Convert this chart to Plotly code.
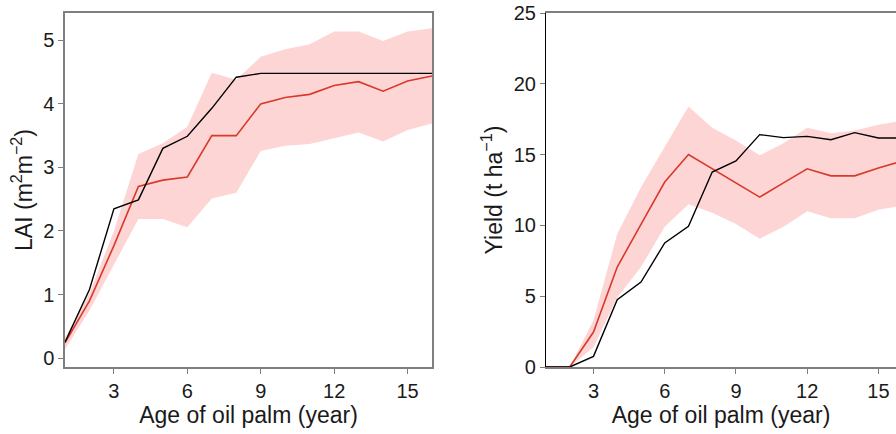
import plotly.graph_objects as go

# ---- Data ----
age = [1, 2, 3, 4, 5, 6, 7, 8, 9, 10, 11, 12, 13, 14, 15, 16]

lai_obs = [0.25, 1.08, 2.35, 2.49, 3.30, 3.49, 3.93, 4.42, 4.48, 4.48, 4.48, 4.48, 4.48, 4.48, 4.48, 4.48]
lai_sim = [0.24, 0.90, 1.77, 2.70, 2.80, 2.85, 3.50, 3.50, 4.00, 4.10, 4.15, 4.29, 4.35, 4.20, 4.36, 4.44]
lai_hi = [0.32, 1.02, 2.00, 3.21, 3.38, 3.64, 4.49, 4.38, 4.74, 4.86, 4.94, 5.14, 5.14, 4.99, 5.14, 5.19]
lai_lo = [0.14, 0.75, 1.48, 2.19, 2.19, 2.06, 2.51, 2.60, 3.26, 3.34, 3.37, 3.46, 3.55, 3.41, 3.59, 3.69]

yield_obs = [0.0, 0.0, 0.75, 4.75, 6.00, 8.76, 9.93, 13.77, 14.55, 16.41, 16.20, 16.29, 16.05, 16.55, 16.17, 16.17]
yield_sim = [0.0, 0.0, 2.47, 7.06, 10.08, 13.06, 15.00, 14.00, 13.00, 12.00, 13.00, 14.00, 13.50, 13.50, 14.05, 14.55]
yield_hi = [0.0, 0.0, 3.30, 9.40, 12.70, 15.50, 18.40, 16.90, 16.00, 14.95, 15.80, 16.90, 16.50, 16.70, 17.10, 17.40]
yield_lo = [0.0, 0.0, 1.40, 4.90, 7.06, 9.90, 11.50, 10.90, 10.10, 9.06, 9.90, 11.00, 10.50, 10.50, 11.10, 11.40]

x_ticks = [3, 6, 9, 12, 15]
lai_ticks = [0, 1, 2, 3, 4, 5]
yield_ticks = [0, 5, 10, 15, 20, 25]

# ---- Styles ----
BAND = "#FDD5D5"
RED = "#D8392A"
BLACK = "#000000"
GRAY = "#7F7F7F"
FONT = "Liberation Sans, Arial, sans-serif"

fig = go.Figure()


def add_panel(xa, ya, hi, lo, sim, obs):
    fig.add_trace(go.Scatter(x=age + age[::-1], y=hi + lo[::-1], fill="toself",
                             fillcolor=BAND, line=dict(width=0), mode="lines",
                             hoverinfo="skip", showlegend=False, xaxis=xa, yaxis=ya))
    fig.add_trace(go.Scatter(x=age, y=sim, mode="lines", line=dict(color=RED, width=1.6),
                             showlegend=False, xaxis=xa, yaxis=ya))
    fig.add_trace(go.Scatter(x=age, y=obs, mode="lines", line=dict(color=BLACK, width=1.4),
                             showlegend=False, xaxis=xa, yaxis=ya))


add_panel("x", "y", lai_hi, lai_lo, lai_sim, lai_obs)
add_panel("x2", "y2", yield_hi, yield_lo, yield_sim, yield_obs)

W, H = 896, 434
tickfont = dict(family=FONT, size=20, color="#1a1a1a")
titlefont = dict(family=FONT, size=23, color="#1a1a1a")

common_x = dict(tickmode="array", tickvals=x_ticks, ticks="outside", ticklen=5,
                tickcolor=GRAY, tickwidth=1, showgrid=False, zeroline=False,
                showline=True, linecolor=GRAY, linewidth=1.5, tickfont=tickfont,
                title=dict(text="Age of oil palm (year)", font=titlefont, standoff=3))

fig.update_layout(
    width=W, height=H,
    margin=dict(l=0, r=0, t=13, b=67),
    plot_bgcolor="white", paper_bgcolor="white",
    font=dict(family=FONT),
    xaxis=dict(domain=[65 / W, 432 / W], range=[1, 16], mirror=True, anchor="y", **common_x),
    yaxis=dict(domain=[0, 1], range=[-0.14, 5.43], tickmode="array", tickvals=lai_ticks,
               ticks="outside", ticklen=5, tickcolor=GRAY, showgrid=False, zeroline=False,
               showline=True, linecolor=GRAY, linewidth=1.5, mirror=True, tickfont=tickfont,
               anchor="x",
               title=dict(text="LAI (m<sup>2</sup>m<sup>\u22122</sup>)", font=titlefont, standoff=4)),
    xaxis2=dict(domain=[546 / W, 1.0], range=[1, 15.74], mirror=True, anchor="y2", **common_x),
    yaxis2=dict(domain=[0, 1], range=[0, 25], tickmode="array", tickvals=yield_ticks,
                ticks="outside", ticklen=5, tickcolor=GRAY, showgrid=False, zeroline=False,
                showline=True, linecolor=BLACK, linewidth=1.2, mirror=False, tickfont=tickfont,
                anchor="x2",
                title=dict(text="Yield (t ha<sup>\u22121</sup>)", font=titlefont, standoff=4)),
)

fig.write_html("out.html")
